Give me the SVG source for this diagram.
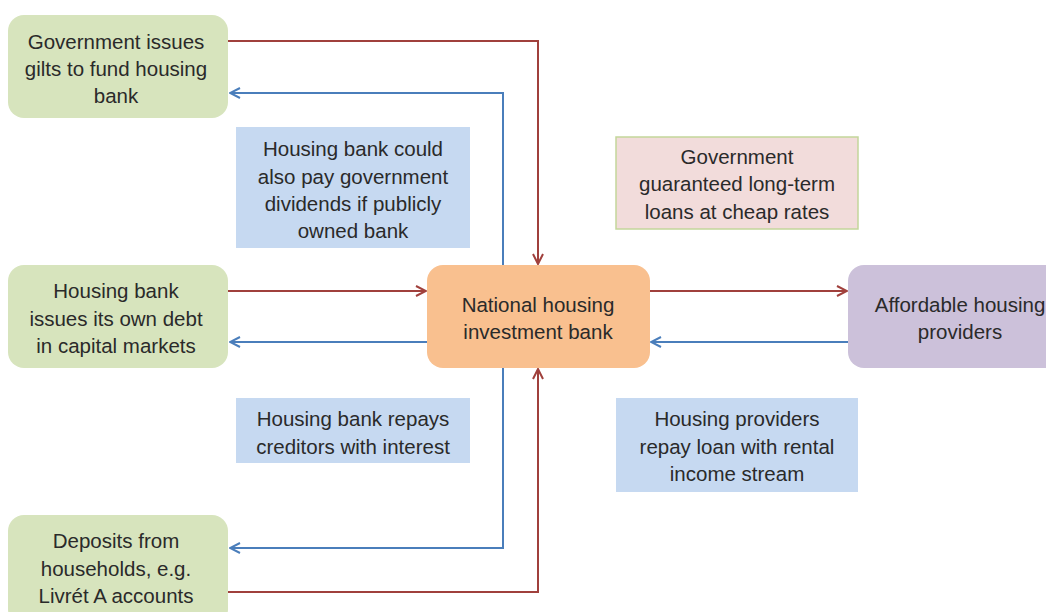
<svg xmlns="http://www.w3.org/2000/svg" width="1046" height="612" viewBox="0 0 1046 612">
<defs>
<style>
.t{font-family:"Liberation Sans",Arial,sans-serif;font-size:20.5px;fill:#2a2a2a;text-anchor:middle}
.g{fill:#d7e4bd}
.lb{fill:#c6d9f1}
.r{fill:none;stroke:#a0403c;stroke-width:2}
.b{fill:none;stroke:#4a7ebb;stroke-width:2}
</style>
<marker id="ar" viewBox="0 0 12 12" refX="11" refY="6" markerWidth="12" markerHeight="12" markerUnits="userSpaceOnUse" orient="auto">
<path d="M1,1 L11,6 L1,11" fill="none" stroke="#a0403c" stroke-width="2"/>
</marker>
<marker id="ab" viewBox="0 0 12 12" refX="11" refY="6" markerWidth="12" markerHeight="12" markerUnits="userSpaceOnUse" orient="auto">
<path d="M1,1 L11,6 L1,11" fill="none" stroke="#4a7ebb" stroke-width="2"/>
</marker>
</defs>
<rect width="1046" height="612" fill="#fff"/>
<g id="connectors">
<path class="r" d="M228,41 H538 V264" marker-end="url(#ar)"/>
<path class="b" d="M503,265 V93 H230" marker-end="url(#ab)"/>
<path class="r" d="M228,291 H426" marker-end="url(#ar)"/>
<path class="b" d="M427,342 H230" marker-end="url(#ab)"/>
<path class="r" d="M650,291 H847" marker-end="url(#ar)"/>
<path class="b" d="M848,342 H651" marker-end="url(#ab)"/>
<path class="b" d="M503,368 V548 H230" marker-end="url(#ab)"/>
<path class="r" d="M228,592 H538 V369" marker-end="url(#ar)"/>
</g>
<g id="gov">
<rect class="g" x="8" y="15" width="220" height="103" rx="16"/>
<text class="t" x="116" y="49">Government issues</text>
<text class="t" x="116" y="76">gilts to fund housing</text>
<text class="t" x="116" y="103">bank</text>
</g>
<g id="debt">
<rect class="g" x="8" y="265" width="220" height="103" rx="16"/>
<text class="t" x="116" y="298">Housing bank</text>
<text class="t" x="116" y="326">issues its own debt</text>
<text class="t" x="116" y="353">in capital markets</text>
</g>
<g id="deposits">
<rect class="g" x="8" y="515" width="220" height="110" rx="16"/>
<text class="t" x="116" y="548">Deposits from</text>
<text class="t" x="116" y="576">households, e.g.</text>
<text class="t" x="116" y="603">Livrét A accounts</text>
</g>
<g id="bank">
<rect x="427" y="265" width="223" height="103" rx="16" fill="#f9c08f"/>
<text class="t" x="538" y="312">National housing</text>
<text class="t" x="538" y="339">investment bank</text>
</g>
<g id="providers">
<rect x="848" y="265" width="220" height="103" rx="16" fill="#ccc1da"/>
<text class="t" x="960" y="312">Affordable housing</text>
<text class="t" x="960" y="339">providers</text>
</g>
<g id="label-dividends">
<rect class="lb" x="236" y="127" width="234" height="121"/>
<text class="t" x="353" y="156">Housing bank could</text>
<text class="t" x="353" y="184">also pay government</text>
<text class="t" x="353" y="211">dividends if publicly</text>
<text class="t" x="353" y="238">owned bank</text>
</g>
<g id="label-guaranteed">
<rect x="616" y="137" width="242" height="92" fill="#f2dcdb" stroke="#c3d69b" stroke-width="1.5"/>
<text class="t" x="737" y="164">Government</text>
<text class="t" x="737" y="191">guaranteed long-term</text>
<text class="t" x="737" y="219">loans at cheap rates</text>
</g>
<g id="label-repays">
<rect class="lb" x="236" y="398" width="234" height="65"/>
<text class="t" x="353" y="426">Housing bank repays</text>
<text class="t" x="353" y="454">creditors with interest</text>
</g>
<g id="label-rental">
<rect class="lb" x="616" y="398" width="242" height="94"/>
<text class="t" x="737" y="426">Housing providers</text>
<text class="t" x="737" y="454">repay loan with rental</text>
<text class="t" x="737" y="481">income stream</text>
</g>
</svg>
